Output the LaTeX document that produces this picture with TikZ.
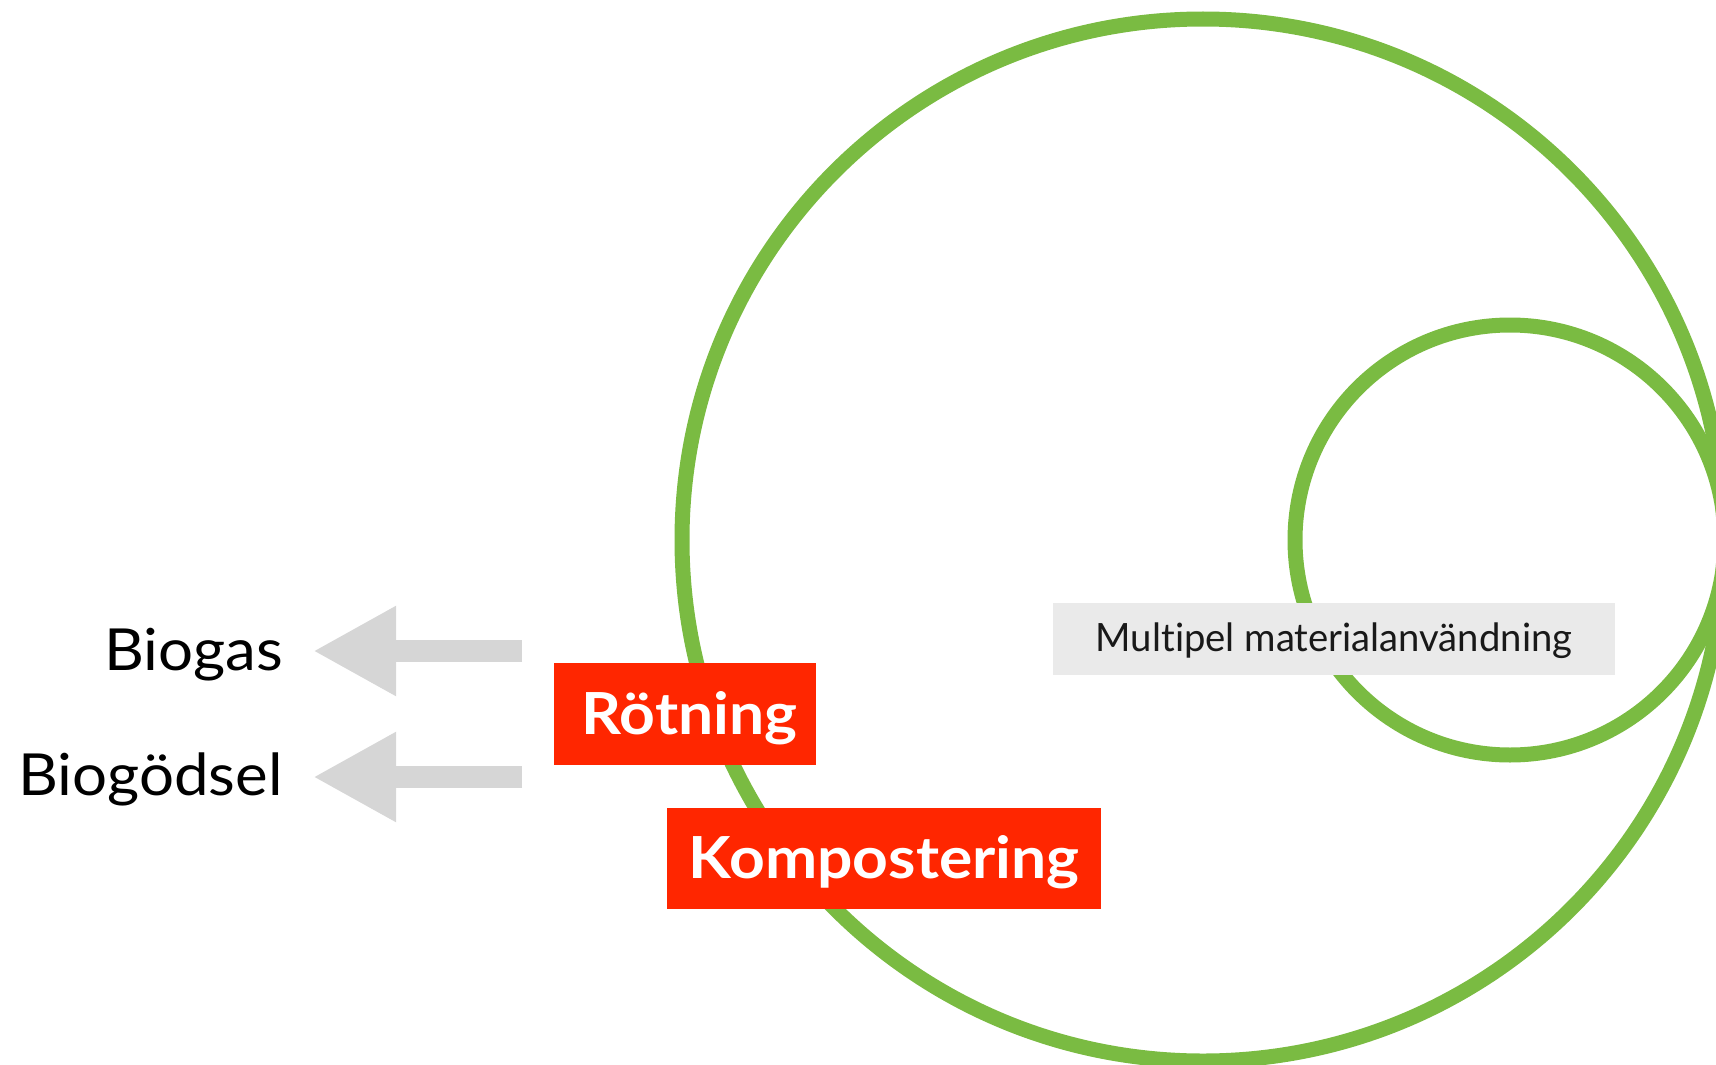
\documentclass[tikz,border=0pt]{standalone}
\usepackage{fontspec}
\setmainfont{Lato}[RawFeature=-liga]
\newfontfamily\widelato[FakeStretch=1.065,RawFeature=-liga]{Lato}
\newfontfamily\widelatob[FakeStretch=1.075,RawFeature=-liga]{Lato Bold}
\newfontfamily\narrowlato[FakeStretch=0.98,RawFeature=-liga]{Lato}
\usetikzlibrary{arrows.meta}
\definecolor{ringgreen}{RGB}{122,187,66}
\definecolor{boxred}{RGB}{255,38,0}
\definecolor{arrowgrey}{RGB}{214,214,214}
\definecolor{labelgrey}{RGB}{234,234,234}
\begin{document}
\begin{tikzpicture}[x=1pt,y=-1pt,
  ring/.style={draw=ringgreen,line width=15pt},
  redbox/.style={fill=boxred,text=white,inner sep=0pt,
    font=\widelatob\fontsize{58}{58}\selectfont},
  greybox/.style={fill=labelgrey,text=black!90,inner sep=0pt,
    font=\narrowlato\fontsize{39}{39}\selectfont},
  outlabel/.style={anchor=base east,inner sep=0pt,text=black,
    font=\widelato\fontsize{58}{58}\selectfont},
  blockarrow/.style={draw=arrowgrey,line width=22pt,
    -{Triangle[length=83pt,width=84pt]}}
]
\useasboundingbox (0,0) rectangle (1716,1065);
\clip (0,0) rectangle (1716,1065);
% rings
\draw[ring] (1203,540) circle[radius=521pt];
\draw[ring] (1510,540) circle[radius=215pt];
% boxes
\node[redbox,minimum width=262pt,text height=71pt,text depth=31pt] (rot) at (684.5,714) {\hspace{10pt}Rötning};
\node[redbox,minimum width=434pt,text height=70pt,text depth=31pt] (komp) at (884,858.5) {Kompostering};
\node[greybox,minimum width=562pt,text height=48pt,text depth=24pt] (multi) at (1334,639) {Multipel materialanvändning};
% outputs
\node[outlabel] (biogas) at (283,670) {Biogas};
\node[outlabel] (biogod) at (283,795) {Biogödsel};
\coordinate (s1) at (522,651);
\coordinate (t1) at (313,651);
\coordinate (s2) at (522,777);
\coordinate (t2) at (313,777);
\draw[blockarrow] (s1) -- (t1);
\draw[blockarrow] (s2) -- (t2);
\end{tikzpicture}
\end{document}
